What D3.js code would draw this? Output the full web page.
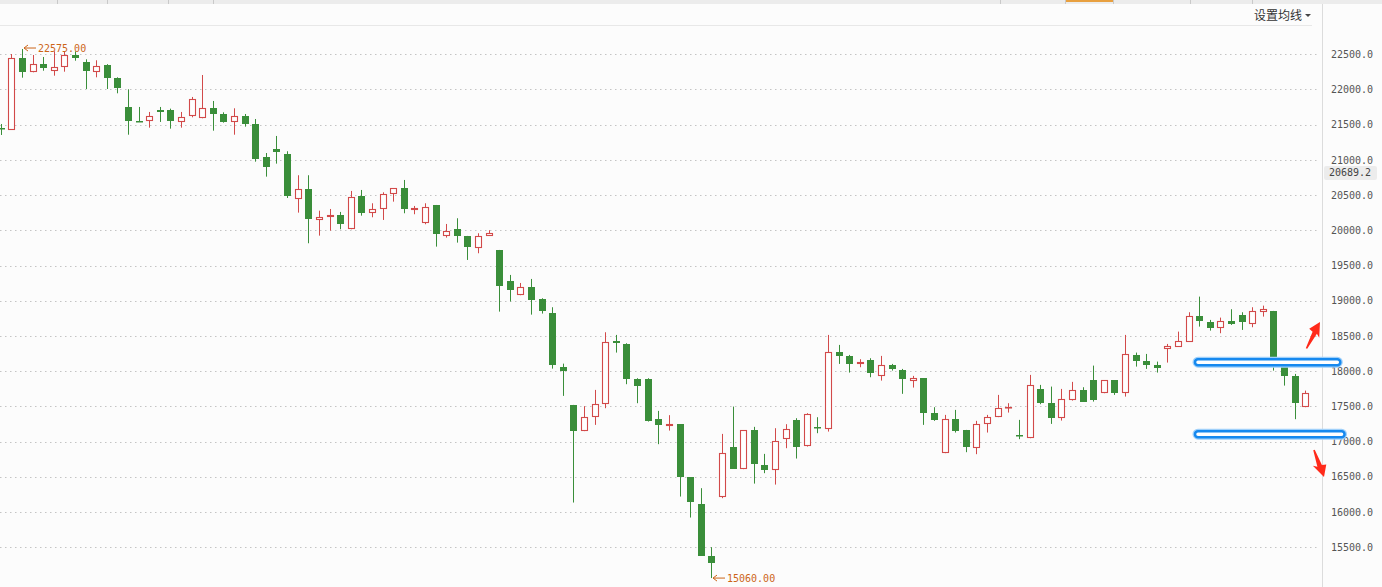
<!DOCTYPE html>
<html>
<head>
<meta charset="utf-8">
<script src="https://cdn.jsdelivr.net/npm/d3@7/dist/d3.min.js"></script>
<style>
    html, body { margin: 0; padding: 0; background: #fcfcfc; }
    svg { display: block; }
</style>
</head>
<body>
<svg id="chart" width="1382" height="587"></svg>
<script>
// Daily candles (left to right)
const opens = [21460,21425,22447,22244,22362,22259,22315,22490,22395,22244,22348,22159,21747,21552,21549,21709,21709,21543,21620,21591,
    21733,21648,21534,21624,21510,21042,21155,21084,20450,20583,20143,20194,20214,20015,20488,20242,20299,20512,20597,20289,
    20109,20360,19924,20015,19920,19745,19920,19721,19281,19078,19196,19025,18826,18060,17520,17147,17346,17530,18429,18386,
    17885,17885,17317,17222,17246,16494,16110,15372,16209,16919,16607,17161,16668,16592,17033,17307,16942,17205,17183,18268,
    18216,18098,18159,17932,18088,18017,17857,17899,17402,16834,17317,17165,16905,17246,17354,17478,17094,17047,17743,17553,
    17331,17591,17729,17875,17686,17871,17686,18230,18145,18088,18311,18348,18419,18784,18703,18609,18713,18798,18670,18836,
    18855,18074,17932,17496];
const highs = [21510,22504,22575,22490,22462,22543,22537,22540,22429,22415,22360,22173,22003,21752,21681,21752,21728,21681,21894,22206,
    21837,21676,21733,21652,21581,21098,21340,21123,20782,20782,20279,20303,20261,20559,20573,20384,20540,20597,20715,20346,
    20384,20360,20090,20171,19920,19958,20001,19721,19366,19252,19309,19035,18907,18106,17520,17502,17733,18552,18514,18396,
    17899,17899,17435,17374,17246,16494,16337,15499,17108,17496,17161,17208,16824,17189,17246,17331,17402,17345,18514,18372,
    18230,18169,18183,18216,18102,18031,17932,17899,17487,17378,17449,17165,17293,17378,17662,17544,17307,17946,17804,17780,
    17747,17847,17771,18078,17871,17871,18514,18263,18244,18135,18386,18561,18836,19058,18727,18760,18879,18836,18907,18930,
    18855,18074,17960,17723];
const lows = [21354,21425,22168,22244,22267,22196,22253,22409,22007,22173,22007,21946,21358,21546,21458,21539,21444,21458,21605,21591,
    21415,21529,21358,21472,20975,20762,20947,20459,20251,19816,19924,19995,20015,20015,20208,20185,20147,20407,20242,20228,
    20086,19768,19896,19825,19579,19674,19920,18845,18989,19078,18802,18817,18035,17648,16133,17147,17236,17473,18263,17814,
    17544,17283,16962,17155,16218,15920,15380,15060,16195,16615,16607,16402,16550,16388,16905,16758,16928,17118,17141,18102,
    17979,18055,17913,17865,18007,17677,17766,17236,17293,16834,17127,16848,16820,17127,17346,17411,17033,17047,17530,17250,
    17297,17581,17567,17567,17686,17662,17638,18064,18031,17979,18121,18348,18419,18632,18575,18538,18656,18585,18623,18774,
    18007,17794,17317,17487];
const closes = [21445,22443,22253,22362,22301,22315,22490,22443,22267,22338,22168,22017,21557,21546,21620,21681,21557,21605,21861,21733,
    21657,21543,21620,21510,21013,20900,21117,20492,20583,20166,20194,20214,20095,20478,20251,20299,20512,20597,20299,20322,
    20336,19944,19995,19924,19759,19920,19967,19214,19157,19191,19015,18859,18092,18003,17155,17346,17530,18410,18396,17894,
    17794,17297,17232,17246,16502,16138,15380,15281,16834,16615,17161,16687,16597,17005,17179,16928,17388,17198,18268,18220,
    18102,18130,17979,18084,18027,17885,17899,17411,17307,17317,17151,16928,17246,17346,17473,17483,17088,17804,17553,17340,
    17601,17729,17567,17591,17871,17695,18244,18149,18088,18050,18354,18429,18784,18717,18618,18717,18670,18694,18859,18883,
    18112,17936,17544,17686];

const yTicks = [15500,16000,16500,17000,17500,18000,18500,19000,19500,20000,20500,21000,21500,22000,22500];
const maxMark = { index: 2, value: 22575.00 };
const minMark = { index: 67, value: 15060.00 };
const cursorLabel = { value: 20815, text: '20689.2' };
// hand-drawn support / resistance boxes (price, start index, end index)
const levelBoxes = [
    { price: 18126, from: 112.6, to: 126.3 },
    { price: 17104, from: 112.6, to: 126.7 }
];

const W = 1382, H = 587;
const plotRight = 1322;
const GREEN = '#3a8e3a', RED = '#d24a4a', BG = '#fcfcfc';

const svg = d3.select('#chart');

const x = d3.scaleLinear().domain([0, 123]).range([0.7, 1305.3]);
const y = d3.scaleLinear().domain([15000, 22500]).range([582.3, 54.3]);

svg.append('rect').attr('width', W).attr('height', H).attr('fill', BG);

// top toolbar strip
const bar = svg.append('g');
bar.append('rect').attr('x', 0).attr('y', 0).attr('width', W).attr('height', 4).attr('fill', '#ececec');
[57, 107, 168, 213, 1000, 1065, 1113, 1190, 1252].forEach(sx => {
    bar.append('line').attr('x1', sx + 0.5).attr('x2', sx + 0.5).attr('y1', 0).attr('y2', 4)
        .attr('stroke', '#c9c9c9');
});
bar.append('rect').attr('x', 1066).attr('y', 0).attr('width', 47).attr('height', 2).attr('fill', '#e8a040');

svg.append('line').attr('x1', 0).attr('x2', 1312).attr('y1', 25.5).attr('y2', 25.5)
    .attr('stroke', '#e8e8e8');

// moving average setting menu
svg.append('text').attr('x', 1254).attr('y', 20)
    .attr('font-family', '"Noto Sans CJK SC", sans-serif').attr('font-size', 12)
    .attr('fill', '#333').text('设置均线');
svg.append('path').attr('d', 'M1305,14 L1311,14 L1308,17 Z').attr('fill', '#444');

// grid
const grid = svg.append('g');
yTicks.forEach(t => {
    const yy = Math.round(y(t)) + 0.5;
    grid.append('line').attr('x1', 0).attr('x2', 1318).attr('y1', yy).attr('y2', yy)
        .attr('stroke', '#c4c4c4').attr('stroke-dasharray', '1.5,3.5');
});

// right axis
svg.append('line').attr('x1', plotRight + 0.5).attr('x2', plotRight + 0.5).attr('y1', 4).attr('y2', H)
    .attr('stroke', '#dcdcdc');
const axis = d3.axisRight(y).tickValues(yTicks).tickFormat(d3.format('.1f')).tickSize(0).tickPadding(0);
const axisG = svg.append('g').attr('transform', `translate(${1331},0)`).call(axis);
axisG.select('.domain').remove();
axisG.selectAll('text')
    .attr('font-family', '"DejaVu Sans Mono", monospace').attr('font-size', 10)
    .attr('fill', '#555');

// cursor price box
const cy = y(cursorLabel.value);
svg.append('rect').attr('x', 1324).attr('y', cy - 7).attr('width', 53).attr('height', 14)
    .attr('rx', 2).attr('fill', '#ececec');
svg.append('text').attr('x', 1350).attr('y', cy + 3.5).attr('text-anchor', 'middle')
    .attr('font-family', '"DejaVu Sans Mono", monospace').attr('font-size', 10)
    .attr('fill', '#444').text(cursorLabel.text);

// candles
const candles = svg.append('g');
opens.forEach((o, i) => {
    const c = closes[i], h = highs[i], l = lows[i];
    const up = c >= o;
    const col = up ? RED : GREEN;
    const cx = Math.round(x(i));
    const top = Math.round(y(Math.max(o, c)));
    const bot = Math.max(Math.round(y(Math.min(o, c))), top + 1);
    const g = candles.append('g');
    g.append('line').attr('x1', cx + 0.5).attr('x2', cx + 0.5)
        .attr('y1', y(h)).attr('y2', top).attr('stroke', col);
    g.append('line').attr('x1', cx + 0.5).attr('x2', cx + 0.5)
        .attr('y1', bot).attr('y2', y(l)).attr('stroke', col);
    if (up) {
        g.append('rect').attr('x', cx - 2.5).attr('y', top + 0.5)
            .attr('width', 6).attr('height', Math.max(bot - top - 1, 0.5))
            .attr('fill', '#fff').attr('stroke', col).attr('stroke-width', 1.1);
    } else {
        g.append('rect').attr('x', cx - 3).attr('y', top)
            .attr('width', 7).attr('height', Math.max(bot - top, 1.5))
            .attr('fill', col);
    }
});

// max / min markers
function extremeLabel(mark, dy) {
    const ax = Math.round(x(mark.index)) + 2;
    const ay = y(mark.value) + dy;
    const g = svg.append('g');
    g.append('path')
        .attr('d', `M${ax + 12},${ay} L${ax},${ay} M${ax + 4},${ay - 3} L${ax},${ay} L${ax + 4},${ay + 3}`)
        .attr('stroke', '#cc6518').attr('fill', 'none');
    g.append('text').attr('x', ax + 14).attr('y', ay + 4)
        .attr('font-family', '"DejaVu Sans Mono", monospace').attr('font-size', 10)
        .attr('fill', '#cc6518').text(mark.value.toFixed(2));
}
extremeLabel(maxMark, -1);
extremeLabel(minMark, 0);

// blue level boxes
levelBoxes.forEach(b => {
    const x0 = x(b.from), x1 = x(b.to), yy = y(b.price);
    svg.append('rect').attr('x', x0).attr('y', yy - 3).attr('width', x1 - x0).attr('height', 6)
        .attr('rx', 3).attr('fill', 'none').attr('stroke', '#9fd0fa').attr('stroke-width', 5);
    svg.append('rect').attr('x', x0).attr('y', yy - 3).attr('width', x1 - x0).attr('height', 6)
        .attr('rx', 3).attr('fill', '#fff').attr('stroke', '#1689ef').attr('stroke-width', 2.5);
});

// red hand-drawn arrows
function redArrow(tail, tip) {
    const dx = tip[0] - tail[0], dy = tip[1] - tail[1];
    const len = Math.hypot(dx, dy);
    const ux = dx / len, uy = dy / len, nx = -uy, ny = ux;
    const headLen = 12, headW = 6.5;
    const bx = tip[0] - ux * headLen, by = tip[1] - uy * headLen;
    const pts = [
        [tail[0] + nx * 0.8, tail[1] + ny * 0.8],
        [bx + nx * 2.6, by + ny * 2.6],
        [bx + nx * headW - ux * 2.5, by + ny * headW - uy * 2.5],
        tip,
        [bx - nx * headW + ux * 1, by - ny * headW + uy * 1],
        [bx - nx * 2.2, by - ny * 2.2],
        [tail[0] - nx * 0.8, tail[1] - ny * 0.8]
    ];
    svg.append('path').attr('d', 'M' + pts.map(p => p.join(',')).join('L') + 'Z')
        .attr('fill', '#ff2a1a');
}
redArrow([1306.5, 348.5], [1320, 322]);
redArrow([1314, 450], [1324, 477]);
</script>
</body>
</html>
